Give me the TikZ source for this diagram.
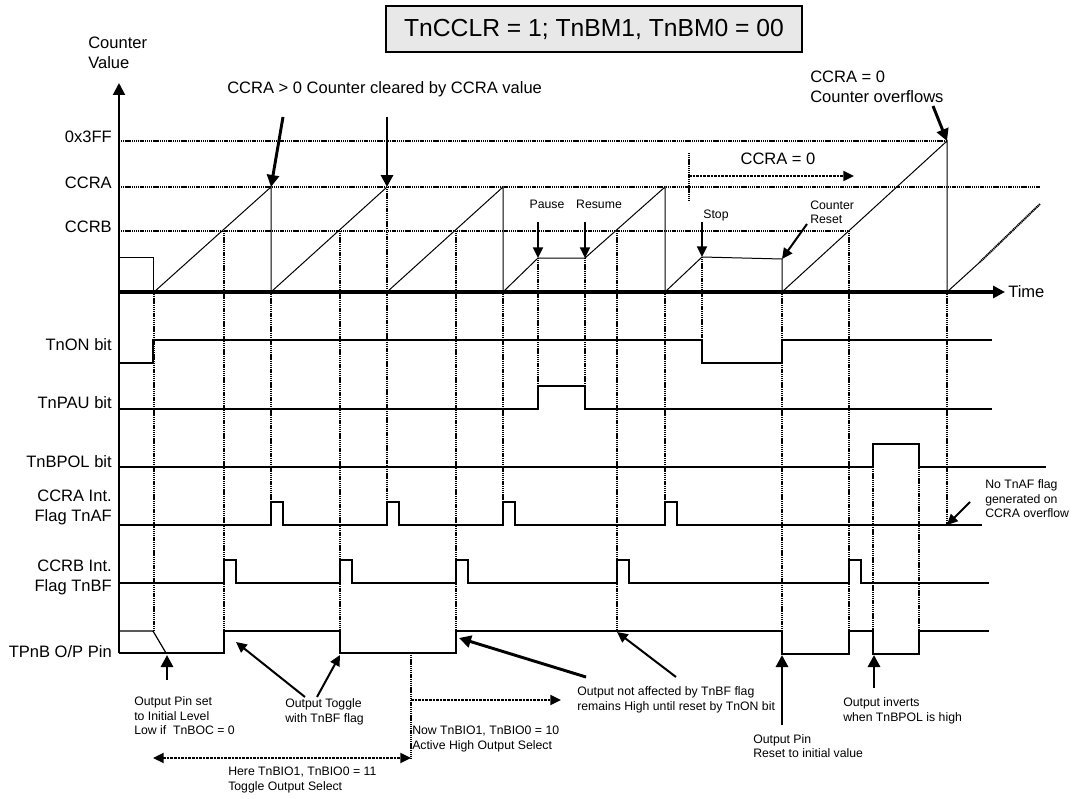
\documentclass[tikz,border=0pt]{standalone}
\usepackage{fontspec}
\setmainfont{Liberation Sans}
\usetikzlibrary{arrows.meta,calc}

\tikzset{
  sig/.style={line width=0.9pt},
  ramp/.style={line width=0.75pt},
  lvl/.style={line width=1.6pt, dash pattern=on 0.9pt off 0.5pt},
  guide/.style={line width=1.5pt, dash pattern=on 0.9pt off 0.5pt},
  span/.style={line width=1.4pt, dash pattern=on 2pt off 0.7pt},
  ptr/.style={line width=1.5pt, -{Triangle[length=8pt,width=7.5pt]}},
  bigptr/.style={line width=2.2pt, -{Triangle[length=9pt,width=9pt]}},
  lab/.style={font=\fontsize{12.4}{15}\selectfont, inner sep=0pt},
  note/.style={font=\fontsize{9.2}{10.8}\selectfont, inner sep=0pt, align=left},
}

\begin{document}
\begin{tikzpicture}[x=0.75pt,y=-0.75pt]
\useasboundingbox (0,0) rectangle (1075,799);

% Mode box
\node[draw, line width=1pt, fill=gray!18, minimum width=312pt, minimum height=34.5pt,
      font=\fontsize{18.5}{22}\selectfont] (mode) at (594,29) {TnCCLR = 1; TnBM1, TnBM0 = 00};

% Counter axis and levels
\node[lab, anchor=west, align=left] (cval) at (88,53) {Counter\\Value};
\draw[line width=1.5pt, -{Triangle[length=9pt,width=9pt]}] (119,653) -- (119,83);
\foreach \y/\n/\t/\e in {141/l3ff/0x3FF/947, 187/lccra/CCRA/1040, 231/lccrb/CCRB/849} {
    \node[lab, anchor=east] (\n) at (112,\y-4) {\t};
    \draw[lvl] (119,\y) -- (\e,\y);
}

% Counter ramps
\draw[ramp] (119,257) -- (153,257) -- (153,292);
\draw[ramp] (154,292) -- (271,187) -- (271,292) -- (387,187);
\draw[ramp] (387,292) -- (503,187) -- (503,292) -- (538,258) -- (585,258) -- (665,187)
    -- (665,292) -- (702,257) -- (782,259) -- (782,292) -- (947,141) -- (947,292) -- (980,262);
\draw[guide] (980,262) -- (1040,204);

% Time axis
\draw[line width=2.3pt, -{Triangle[length=9pt,width=9pt]}] (119,292) -- (1005,292);
\node[lab, anchor=west] (time) at (1008,292) {Time};

% Event lines
\foreach \x/\a/\b in {154/292/631, 224/231/653, 271/292/502, 340/231/653, 387/187/502,
    456/231/653, 503/292/502, 538/258/386, 585/258/386, 617/231/631, 665/292/502,
    702/257/340, 782/292/631, 849/231/631, 873/467/654, 919/444/631, 947/292/525} {
    \draw[guide] (\x,\a) -- (\x,\b);
}

% Control bits
\node[lab, anchor=east] (on) at (112,345) {TnON bit};
\draw[sig] (119,363) -- (153,363) -- (153,340) -- (702,340) -- (702,363) -- (782,363) -- (782,340) -- (992,340);
\node[lab, anchor=east] (pau) at (112,403) {TnPAU bit};
\draw[sig] (119,409) -- (538,409) -- (538,386) -- (585,386) -- (585,409) -- (992,409);
\node[lab, anchor=east] (pol) at (112,462) {TnBPOL bit};
\draw[sig] (119,467) -- (873,467) -- (873,444) -- (919,444) -- (919,467) -- (1046,467);

% Flags
\node[lab, anchor=east, align=right] (af) at (112,507) {CCRA Int.\\Flag TnAF};
\draw[sig] (119,525) foreach \t in {271,387,503,665} { -- (\t,525) -- (\t,502) -- (\t+12,502) -- (\t+12,525) } -- (982,525);
\node[lab, anchor=east, align=right] (bf) at (112,577) {CCRB Int.\\Flag TnBF};
\draw[sig] (119,583) foreach \t in {224,340,456,617,849} { -- (\t,583) -- (\t,560) -- (\t+12,560) -- (\t+12,583) } -- (989,583);

% Output pin
\node[lab, anchor=east] (pin) at (112,652) {TPnB O/P Pin};
\draw[sig] (119,631) -- (153,631) -- (166,653);
\draw[sig] (119,653) -- (224,653) -- (224,631) -- (340,631) -- (340,653) -- (456,653) -- (456,631)
    -- (782,631) -- (782,654) -- (849,654) -- (849,631) -- (873,631) -- (873,654) -- (919,654) -- (919,631) -- (989,631);

% Points the notes refer to
\coordinate (hitA1) at (271,187);
\coordinate (hitA2) at (387,187);
\coordinate (pauseP) at (538,258);
\coordinate (resumeP) at (585,258);
\coordinate (stopP) at (702,257);
\coordinate (resetP) at (782,259);
\coordinate (ovf) at (947,141);
\coordinate (noAFp) at (947,525);
\coordinate (initP) at (167,655);
\coordinate (tog1) at (236,642);
\coordinate (tog2) at (340,655);
\coordinate (keep1) at (459,638);
\coordinate (keep2) at (617,632);
\coordinate (pinRst) at (782,655);
\coordinate (pinInv) at (874,655);

% Counter notes
\node[lab, anchor=west] (clr) at (227,89) {CCRA > 0 Counter cleared by CCRA value};
\draw[bigptr] ($(hitA1)+(12,-70)$) -- (hitA1);
\draw[bigptr] ($(hitA2)+(0,-70)$) -- (hitA2);
\node[lab, anchor=west, align=left] (ovfTxt) at (810,87) {CCRA = 0\\Counter overflows};
\draw[bigptr] ($(ovf)+(-14,-35)$) -- (ovf);
\node[lab] (zeroTxt) at (778,159) {CCRA = 0};
\draw[guide] (689,153) coordinate (zeroL) -- (689,200);
\draw[span, -{Triangle[length=8pt,width=7.5pt]}] (689,176) -- (854,176);
\node[note] (pauseTxt) at (547,204) {Pause};
\node[note] (resumeTxt) at (599,204) {Resume};
\node[note] (stopTxt) at (716,215) {Stop};
\node[note, anchor=west] (resetTxt) at (810,212) {Counter\\Reset};
\draw[ptr] ($(pauseP)+(0,-36)$) -- (pauseP);
\draw[ptr] ($(resumeP)+(0,-36)$) -- (resumeP);
\draw[ptr] ($(stopP)+(0,-35)$) -- (stopP);
\draw[ptr] ($(resetP)+(25,-35)$) -- (resetP);
\node[note, anchor=west] (noAF) at (985,499) {No TnAF flag\\generated on\\CCRA overflow};
\draw[ptr] ($(noAFp)+(23,-23)$) -- (noAFp);

% Pin notes
\node[note, anchor=west] (initTxt) at (134,716) {Output Pin set\\to Initial Level\\Low if~ TnBOC = 0};
\draw[bigptr] ($(initP)+(0,25)$) -- (initP);
\node[note, anchor=west] (togTxt) at (285,712) {Output Toggle\\with TnBF flag};
\draw[ptr] (305,697) -- (tog1);
\draw[ptr] (317,697) -- (tog2);
\draw[guide] (411,653) -- (411,758);
\draw[span, {Triangle[length=8pt,width=7.5pt]}-{Triangle[length=8pt,width=7.5pt]}] (153,758) -- (411,758);
\node[note, anchor=west] (hereTxt) at (228,780) {Here TnBIO1, TnBIO0 = 11\\Toggle Output Select};
\draw[span, -{Triangle[length=8pt,width=7.5pt]}] (411,700) -- (561,700);
\node[note, anchor=west] (nowTxt) at (412,739) {Now TnBIO1, TnBIO0 = 10\\Active High Output Select};
\draw[bigptr] (586,677) -- (keep1);
\node[note, anchor=west] (keepTxt) at (577,700) {Output not affected by TnBF flag\\remains High until reset by TnON bit};
\draw[ptr] (676,677) -- (keep2);
\node[note, anchor=west] (rstTxt) at (753,746) {Output Pin\\Reset to initial value};
\draw[bigptr] ($(pinRst)+(0,70)$) -- (pinRst);
\node[note, anchor=west] (invTxt) at (843,711) {Output inverts\\when TnBPOL is high};
\draw[bigptr] ($(pinInv)+(0,33)$) -- (pinInv);
\end{tikzpicture}
\end{document}
